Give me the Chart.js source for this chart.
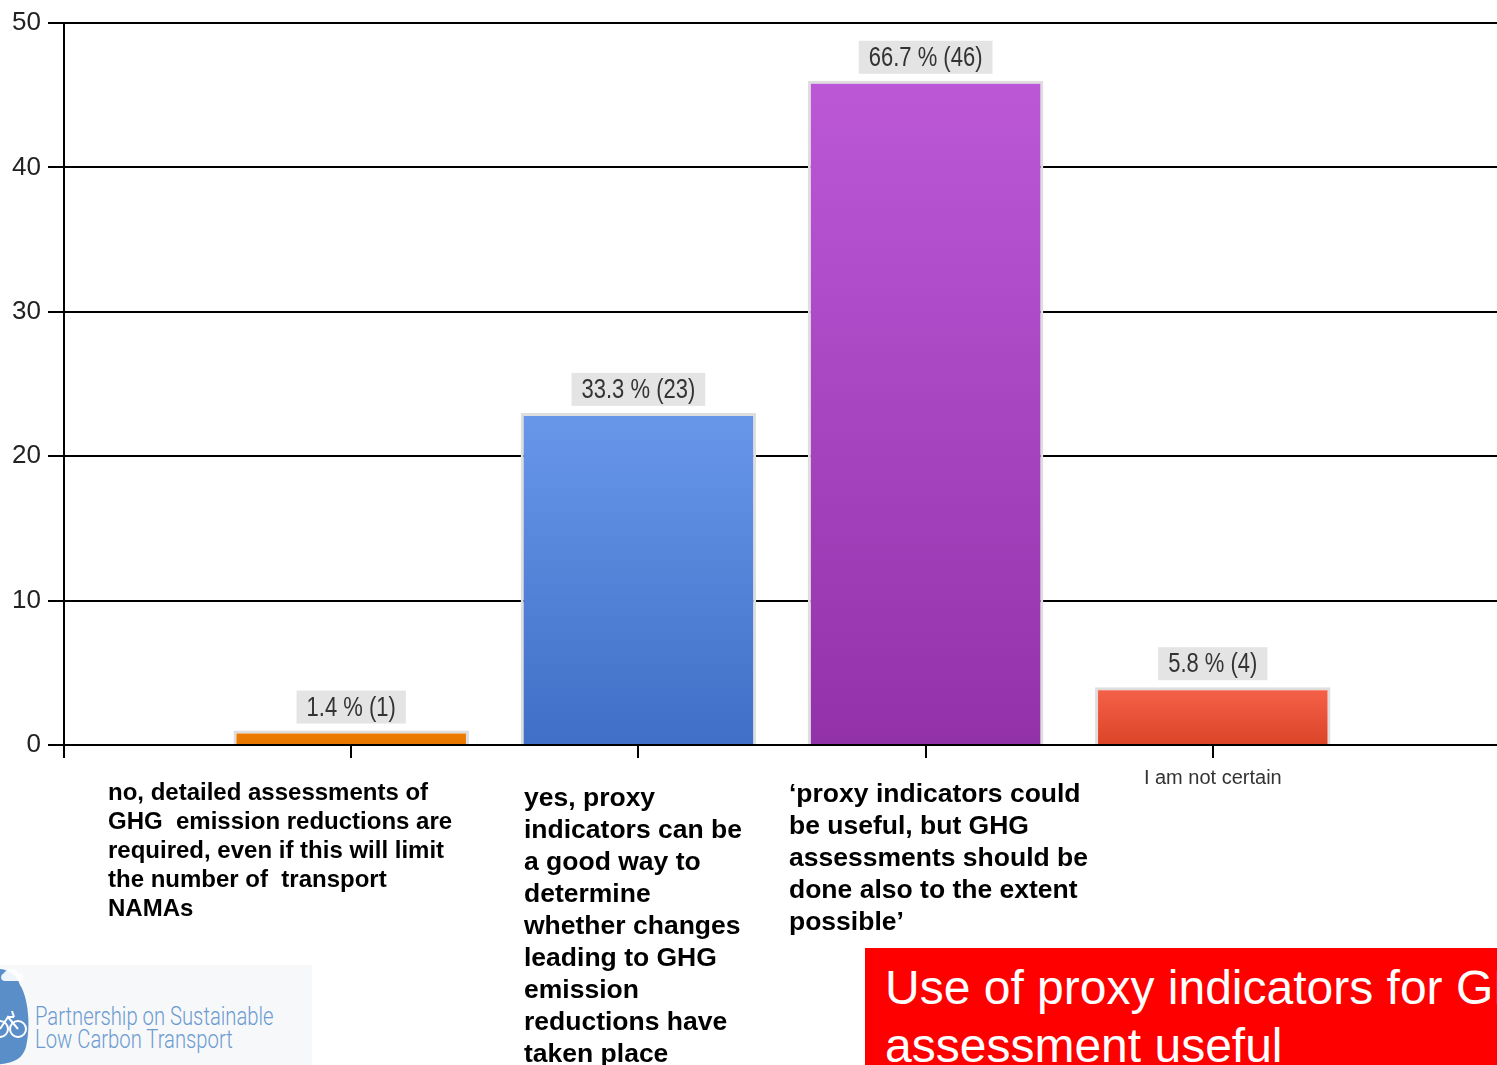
<!DOCTYPE html>
<html>
<head>
<meta charset="utf-8">
<script src="https://cdn.jsdelivr.net/npm/chart.js@4.4.1/dist/chart.umd.min.js"></script>
<style>
  body { margin: 0; width: 1497px; height: 1065px; overflow: hidden; position: relative; background: #fff; }
  #wrap { position: absolute; left: 0; top: 0; width: 1508px; height: 800px; }
  .lbl { position: absolute; font-family: "Liberation Sans", Arial, sans-serif; font-weight: bold; color: #000; white-space: pre; }
  #logo { position: absolute; left: 0; top: 965px; width: 312px; height: 100px; background: #f7f8f9; overflow: hidden; }
  #logo .txt { position: absolute; left: 35px; top: 40px; font-family: Roboto, "Liberation Sans", sans-serif; font-weight: 300; font-size: 25px; line-height: 23px; color: #6b9bd1; white-space: pre; transform: scaleX(0.81); transform-origin: left top; }
  #title { position: absolute; left: 865px; top: 948px; width: 640px; height: 117px; background: #ff0000; overflow: hidden; }
  #title div { position: absolute; left: 20px; top: 11px; font-family: "Liberation Sans", Arial, sans-serif; font-size: 48px; line-height: 58px; color: #fff; white-space: pre; }
</style>
</head>
<body>
<div id="wrap"><canvas id="proxyChart"></canvas></div>

<div class="lbl" style="left:108px;top:777px;font-size:24px;line-height:29px;">no, detailed assessments of
GHG  emission reductions are
required, even if this will limit
the number of  transport
NAMAs</div>
<div class="lbl" style="left:524px;top:781px;font-size:26.5px;line-height:32px;">yes, proxy
indicators can be
a good way to
determine
whether changes
leading to GHG
emission
reductions have
taken place</div>
<div class="lbl" style="left:789px;top:777px;font-size:26.5px;line-height:32px;">‘proxy indicators could
be useful, but GHG
assessments should be
done also to the extent
possible’</div>

<div id="logo">
  <svg width="40" height="100" style="position:absolute;left:0;top:0">
    <path d="M-14 6 C4 0 16 8 20 20 C28 32 31 60 26 82 C22 96 10 100 -14 100 Z" fill="#5a8ec9"/>
    <path d="M4 8 C8 2 16 3 18 9 C23 7 26 13 22 16 L5 16 C0 16 0 10 4 8 Z" fill="#fff" opacity="0.9"/>
    <g stroke="#fff" stroke-width="2" fill="none">
      <circle cx="18" cy="64" r="8"/>
      <circle cx="0" cy="64" r="8"/>
      <path d="M0 64 L8 52 L18 64 M8 52 L14 52 M12 46 L14 52"/>
    </g>
  </svg>
  <div class="txt">Partnership on Sustainable
Low Carbon Transport</div>
</div>

<div id="title"><div>Use of proxy indicators for GHG
assessment useful</div></div>

<script>
// survey answers (count of respondents)
const categories = [
    'no, detailed assessments of GHG emission reductions are required, even if this will limit the number of transport NAMAs',
    'yes, proxy indicators can be a good way to determine whether changes leading to GHG emission reductions have taken place',
    'proxy indicators could be useful, but GHG assessments should be done also to the extent possible',
    'I am not certain'
];
const counts = [1, 23, 46, 4];
const percents = ['1.4', '33.3', '66.7', '5.8'];
const yTicks = [0, 10, 20, 30, 40, 50];

const topColors = ['#ef7d00', '#6897ea', '#bc58d7', '#f6624a'];
const bottomColors = ['#e67600', '#3f6fc6', '#9232a9', '#db4427'];

// empty slot on each side so bars sit on the ticks like the original
const labels = [''].concat(categories, ['']);
const values = [null].concat(counts, [null]);

function barFill(c) {
    const chart = c.chart;
    const k = c.dataIndex - 1;
    if (k < 0 || k >= counts.length) return '#000';
    if (!chart.chartArea) return topColors[k];
    const y = chart.scales.y;
    const g = chart.ctx.createLinearGradient(0, y.getPixelForValue(counts[k]), 0, y.getPixelForValue(0));
    g.addColorStop(0, topColors[k]);
    g.addColorStop(1, bottomColors[k]);
    return g;
}

const valueLabels = {
    id: 'valueLabels',
    afterDatasetsDraw(chart) {
        const ctx = chart.ctx;
        const meta = chart.getDatasetMeta(0);
        ctx.save();
        ctx.font = '22px "Liberation Sans", Arial, sans-serif';
        ctx.textAlign = 'center';
        ctx.textBaseline = 'middle';
        meta.data.forEach((bar, i) => {
            const k = i - 1;
            if (k < 0 || k >= counts.length) return;
            const text = percents[k] + ' % (' + counts[k] + ')';
            const w = ctx.measureText(text).width + 20;
            const h = 33;
            const top = bar.y - 7 - h;
            ctx.fillStyle = '#e4e4e4';
            ctx.fillRect(bar.x - w / 2, top, w, h);
            ctx.fillStyle = '#333';
            ctx.save();
            ctx.translate(bar.x, top + h / 2 + 1);
            ctx.scale(1, 1.25);
            ctx.fillText(text, 0, 0);
            ctx.restore();
        });
        ctx.restore();
    }
};

const ctx = document.getElementById('proxyChart').getContext('2d');
const proxyChart = new Chart(ctx, {
    type: 'bar',
    data: {
        labels: labels,
        datasets: [{
            data: values,
            backgroundColor: barFill,
            borderColor: '#dedede',
            borderWidth: 3,
            categoryPercentage: 1,
            barPercentage: 0.82
        }]
    },
    options: {
        responsive: true,
        maintainAspectRatio: false,
        animation: false,
        layout: { padding: { top: 23, left: 0, right: 0, bottom: 0 } },
        plugins: {
            legend: { display: false },
            tooltip: { enabled: false }
        },
        scales: {
            x: {
                offset: false,
                grid: { offset: false, drawOnChartArea: false, drawTicks: true, tickLength: 13, color: '#000', lineWidth: 2 },
                border: { display: true, color: '#000', width: 2, z: 1 },
                ticks: {
                    autoSkip: false,
                    maxRotation: 0,
                    padding: 8,
                    color: '#333',
                    font: { family: '"Liberation Sans", Arial, sans-serif', size: 20 },
                    callback: function (v, i) {
                        // only the last answer is not covered by the slide text
                        return labels[i] === 'I am not certain' ? labels[i] : '';
                    }
                },
                afterFit: function (scale) { scale.height = 55; }
            },
            y: {
                min: 0,
                max: 50,
                afterBuildTicks: function (scale) { scale.ticks = yTicks.map(v => ({ value: v })); },
                grid: { color: '#000', lineWidth: 2, tickLength: 16 },
                border: { display: true, color: '#000', width: 2 },
                ticks: {
                    padding: 7,
                    color: '#222',
                    font: { family: '"Liberation Sans", Arial, sans-serif', size: 26 }
                },
                afterFit: function (scale) { scale.width = 64; }
            }
        }
    },
    plugins: [valueLabels]
});
</script>
</body>
</html>
